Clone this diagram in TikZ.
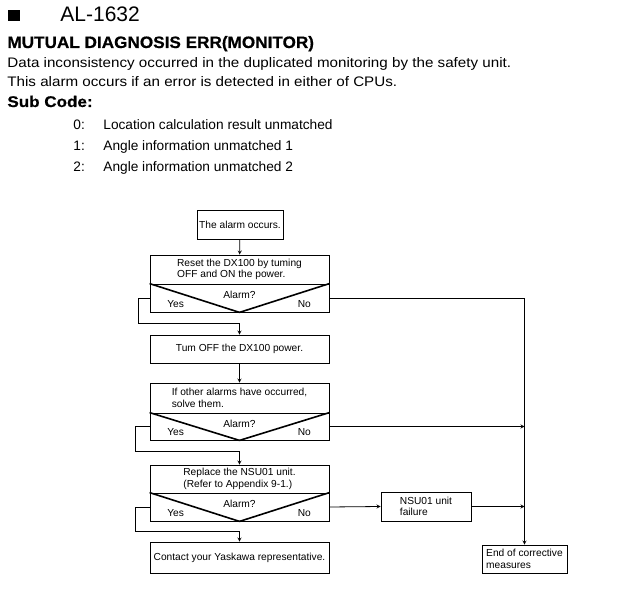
\documentclass[tikz,border=0pt]{standalone}
\usepackage{fontspec}
\setmainfont{Liberation Sans}
\newfontfamily\widefont[FakeStretch=1.1]{Liberation Sans}
\newfontfamily\heavyfont[FakeStretch=1.04,FakeBold=0.6]{Liberation Sans Bold}
\newfontfamily\subfont[FakeStretch=1.1,FakeBold=0.6]{Liberation Sans Bold}

\begin{document}
\begin{tikzpicture}[x=1pt,y=-1pt,>=stealth,
    txt/.style={anchor=base west,inner sep=0pt},
    box/.style={rectangle,draw,line width=0.8pt,align=left,inner sep=0pt,
        minimum width=179pt,minimum height=28pt,font=\fontsize{10.2}{11.7}\selectfont},
    ask/.style={box},
    lbl/.style={inner sep=0pt,font=\fontsize{10.2}{11.7}\selectfont},
    line width=0.8pt]
    \useasboundingbox (0,0) rectangle (640,609);
    % heading
    \fill (8,10) rectangle (20,21);
    \node (code) [txt,font=\fontsize{21}{24}\selectfont] at (60,22) {AL-1632};
    \node (title) [txt,font=\fontsize{16.5}{19}\heavyfont] at (7,48) {MUTUAL DIAGNOSIS ERR(MONITOR)};
    \node (desc1) [txt,font=\fontsize{13.8}{16}\widefont] at (7,68) {Data inconsistency occurred in the duplicated monitoring by the safety unit.};
    \node (desc2) [txt,font=\fontsize{13.8}{16}\widefont] at (7,87) {This alarm occurs if an error is detected in either of CPUs.};
    \node (sub) [txt,font=\fontsize{15.5}{17}\subfont] at (7,107) {Sub Code:};
    \node (n0) [txt,font=\fontsize{13.7}{16}\selectfont] at (73,130) {0:};
    \node (n1) [txt,font=\fontsize{13.7}{16}\selectfont] at (73,151) {1:};
    \node (n2) [txt,font=\fontsize{13.7}{16}\selectfont] at (73,172) {2:};
    \node (s0) [txt,font=\fontsize{13.7}{16}\selectfont] at (103,130) {Location calculation result unmatched};
    \node (s1) [txt,font=\fontsize{13.7}{16}\selectfont] at (103,151) {Angle information unmatched 1};
    \node (s2) [txt,font=\fontsize{13.7}{16}\selectfont] at (103,172) {Angle information unmatched 2};
    % flowchart
    \node (alarm) [box,minimum width=86pt,minimum height=29pt] at (240,224.5) {The alarm occurs.};
    \node (reset) [box,minimum height=29pt] at (239.5,269.5) {Reset the DX100 by tuming\\OFF and ON the power.};
    \node (ask1) [ask] at (239.5,298) {};
    \node (turnoff) [box] at (239.5,349) {Tum OFF the DX100 power.};
    \node (other) [box,minimum height=30pt] at (239.5,398) {If other alarms have occurred,\\solve them.};
    \node (ask2) [ask,minimum height=27pt] at (239.5,426.5) {};
    \node (replace) [box] at (239.5,479) {Replace the NSU01 unit.\\(Refer to Appendix 9-1.)};
    \node (ask3) [ask] at (239.5,507) {};
    \node (contact) [box,minimum height=31pt] at (239.5,557.5) {Contact your Yaskawa representative.};
    \node (nsu) [box,minimum width=90pt,minimum height=29pt] at (426,506.5) {NSU01 unit\\failure};
    \node (finish) [box,minimum width=85pt,minimum height=28pt] at (524.5,559) {End of corrective\\measures};
    % decisions
    \foreach \q in {ask1,ask2,ask3} {
        \draw [line width=1.6pt] (\q.north west) -- (\q.south) -- (\q.north east);
        \node (\q a) [lbl] at ([yshift=3pt]\q.center) {Alarm?};
        \node (\q y) [lbl] at ([xshift=26pt,yshift=-6pt]\q.west) {Yes};
        \node (\q n) [lbl] at ([xshift=-25pt,yshift=-6pt]\q.east) {No};
    }
    % connectors
    \coordinate (j1) at (239.5,323);
    \coordinate (j2) at (239.5,451);
    \coordinate (j3) at (239.5,531);
    \draw [->] (alarm) -- (reset);
    \draw [->] (ask1.west) -- ++(-11,0) |- (j1) -- (turnoff.north);
    \draw [->] (turnoff) -- (other);
    \draw [->] (ask2.west) -- ++(-14,0) |- (j2) -- (replace.north);
    \draw [->] (ask3.west) -- ++(-14,0) |- (j3) -- (contact.north);
    \draw [->] (ask1.east) -| (finish.north);
    \draw [->] (ask2.east) -- (ask2.east -| finish.north);
    \draw [->] (ask3.east) -- (nsu.west);
    \draw [->] (nsu.east) -- (nsu.east -| finish.north);
\end{tikzpicture}
\end{document}
